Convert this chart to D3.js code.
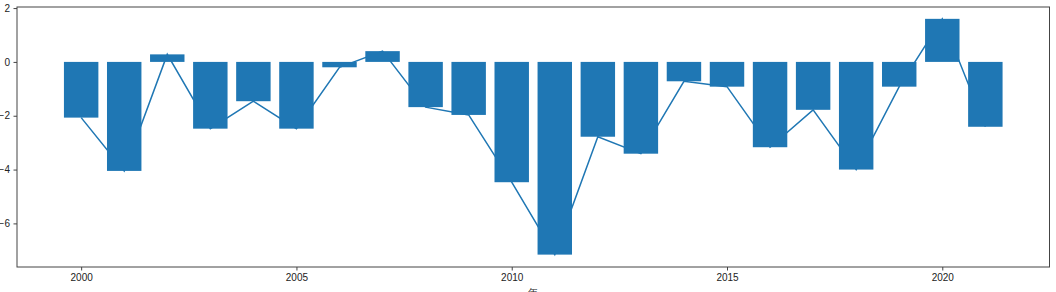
<!DOCTYPE html>
<html>
<head>
<meta charset="utf-8">
<script src="https://cdn.jsdelivr.net/npm/d3@7"></script>
<style>
  body { margin: 0; background: #fff; }
  svg { display: block; font-family: "DejaVu Sans", sans-serif; }
</style>
</head>
<body>
<div id="chart"></div>
<script>
// values
var years = [2000, 2001, 2002, 2003, 2004, 2005, 2006, 2007, 2008, 2009, 2010,
             2011, 2012, 2013, 2014, 2015, 2016, 2017, 2018, 2019, 2020, 2021];
var values = [-2.07, -4.05, 0.28, -2.48, -1.46, -2.48, -0.2, 0.4, -1.68, -1.97, -4.47,
              -7.16, -2.78, -3.41, -0.72, -0.92, -3.17, -1.78, -4.0, -0.92, 1.6, -2.41];
var xTicks = [2000, 2005, 2010, 2015, 2020];
var yTicks = [2, 0, -2, -4, -6];
var xLabel = "年";

var width = 1056, height = 292;
var margin = {left: 17, right: 6.5, top: 7, bottom: 25};
var blue = "#1f77b4";

var svg = d3.select("#chart").append("svg")
  .attr("width", width)
  .attr("height", height);

var x = d3.scaleLinear()
  .domain([1998.51, 2022.49])
  .range([margin.left, width - margin.right]);
var y = d3.scaleLinear()
  .domain([-7.62, 2.04])
  .range([height - margin.bottom, margin.top]);

var barW = x(2000.8) - x(2000);

// line first, bars drawn over it
var line = d3.line()
  .x(function(d, i) { return x(years[i]); })
  .y(function(d) { return y(d); });

svg.append("path")
  .datum(values)
  .attr("d", line)
  .attr("fill", "none")
  .attr("stroke", blue)
  .attr("stroke-width", 1.5);

svg.selectAll("rect.bar")
  .data(values)
  .enter()
  .append("rect")
  .attr("class", "bar")
  .attr("x", function(d, i) { return x(years[i]) - barW / 2; })
  .attr("y", function(d) { return y(Math.max(0, d)); })
  .attr("width", barW)
  .attr("height", function(d) { return Math.abs(y(d) - y(0)); })
  .attr("fill", blue);

// frame
svg.append("rect")
  .attr("x", x.range()[0])
  .attr("y", y.range()[1])
  .attr("width", x.range()[1] - x.range()[0])
  .attr("height", y.range()[0] - y.range()[1])
  .attr("fill", "none")
  .attr("stroke", "#444")
  .attr("stroke-width", 1);

var xAxis = d3.axisBottom(x).tickValues(xTicks).tickFormat(d3.format("d"))
  .tickSize(3.5).tickPadding(3.5);
svg.append("g")
  .attr("transform", "translate(0," + y.range()[0] + ")")
  .call(xAxis)
  .call(function(g) {
    g.select(".domain").remove();
    g.selectAll("line").attr("stroke", "#444");
    g.selectAll("text").attr("fill", "#222").style("font-size", "10px");
  });

var yAxis = d3.axisLeft(y).tickValues(yTicks).tickFormat(function(d) { return d < 0 ? "\u2212" + (-d) : d; })
  .tickSize(3.5).tickPadding(3.5);
svg.append("g")
  .attr("transform", "translate(" + x.range()[0] + ",0)")
  .call(yAxis)
  .call(function(g) {
    g.select(".domain").remove();
    g.selectAll("line").attr("stroke", "#444");
    g.selectAll("text").attr("fill", "#222").style("font-size", "10px");
  });

svg.append("text")
  .attr("x", (x.range()[0] + x.range()[1]) / 2)
  .attr("y", height + 4)
  .attr("text-anchor", "middle")
  .attr("fill", "#222")
  .style("font-size", "10px")
  .text(xLabel);
</script>
</body>
</html>
